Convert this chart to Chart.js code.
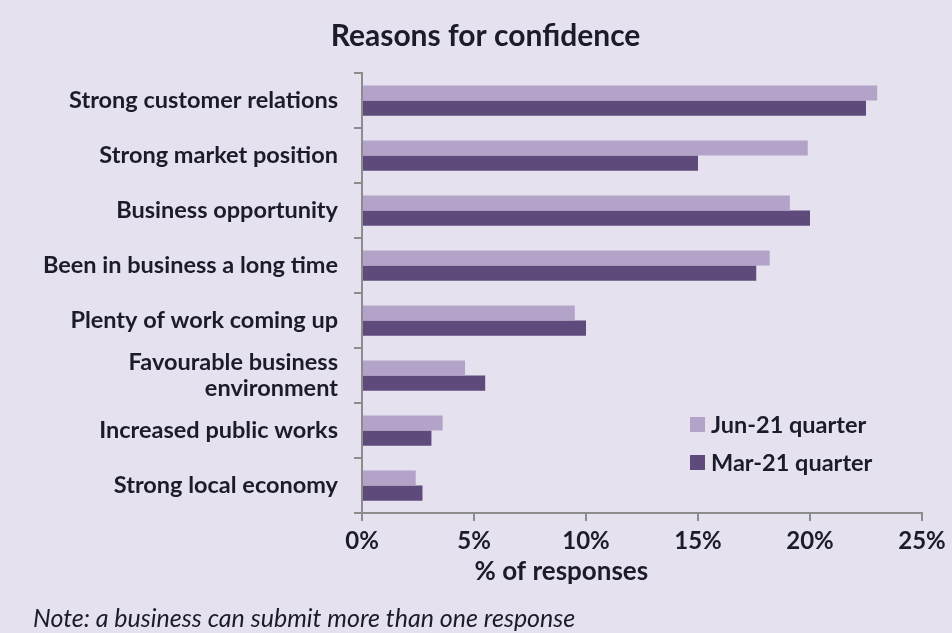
<!DOCTYPE html>
<html lang="en">
<head>
    <meta charset="UTF-8">
    <title>Reasons for confidence</title>
    <script src="https://cdn.jsdelivr.net/npm/chart.js@4.4.1/dist/chart.umd.min.js"></script>
    <style>
        body {
            margin: 0;
            background: #e6e1ee;
            font-family: 'Lato', sans-serif;
        }
        .wrap {
            position: relative;
            width: 952px;
            height: 633px;
        }
        .legend {
            position: absolute;
            left: 690px;
            top: 405px;
            font-size: 23.5px;
            font-weight: bold;
            color: #1b1b2b;
        }
        .legend div {
            display: flex;
            align-items: center;
            height: 38px;
        }
        .legend span.box {
            width: 15px;
            height: 15px;
            margin-right: 6px;
        }
    </style>
</head>
<body>
<div class="wrap">
    <canvas id="chart" width="952" height="633"></canvas>
    <div class="legend" id="legend"></div>
</div>

<script>
    // data
    const reasons = [
        "Strong customer relations",
        "Strong market position",
        "Business opportunity",
        "Been in business a long time",
        "Plenty of work coming up",
        ["Favourable business", "environment"],
        "Increased public works",
        "Strong local economy"
    ];
    const jun21 = [23.0, 19.9, 19.1, 18.2, 9.5, 4.6, 3.6, 2.4];
    const mar21 = [22.5, 15.0, 20.0, 17.6, 10.0, 5.5, 3.1, 2.7];
    const xTicks = [0, 5, 10, 15, 20, 25];

    const ink = "#1b1b2b";
    const axisGrey = "#8c8c8c";

    // x title + note drawn under the axis
    const extras = {
        id: "extras",
        afterDraw(chart) {
            const c = chart.ctx;
            const x = chart.scales.x;
            c.save();
            c.fillStyle = ink;
            c.textAlign = "center";
            c.textBaseline = "middle";
            c.font = "bold 26px Lato";
            c.fillText("% of responses", x.getPixelForValue(8.9), 572);
            c.textAlign = "left";
            c.font = "italic 25px Lato";
            c.fillText("Note: a business can submit more than one response", 33, 619);
            c.restore();
        }
    };

    const ctx = document.getElementById("chart").getContext("2d");
    const chart = new Chart(ctx, {
        type: "bar",
        data: {
            labels: reasons,
            datasets: [
                { label: "Jun-21 quarter", data: jun21, backgroundColor: "#b3a3c9" },
                { label: "Mar-21 quarter", data: mar21, backgroundColor: "#5f4b7b" }
            ]
        },
        options: {
            indexAxis: "y",
            responsive: false,
            animation: false,
            datasets: { bar: { categoryPercentage: 0.55, barPercentage: 1.0 } },
            layout: { padding: { left: 35, right: 16, top: 18, bottom: 0 } },
            plugins: {
                legend: { display: false },
                tooltip: { enabled: false },
                title: {
                    display: true,
                    text: "Reasons for confidence",
                    color: ink,
                    font: { family: "Lato", size: 30, weight: "bold" },
                    padding: { top: 0, bottom: 19 }
                }
            },
            scales: {
                x: {
                    min: 0,
                    max: 25,
                    afterBuildTicks(scale) {
                        scale.ticks = xTicks.map(v => ({ value: v }));
                    },
                    afterFit(scale) {
                        scale.height = 120;
                        scale.paddingRight = 30;
                    },
                    border: { color: axisGrey, width: 2 },
                    grid: { drawOnChartArea: false, color: axisGrey, lineWidth: 2, tickLength: 8 },
                    ticks: {
                        color: ink,
                        padding: 6,
                        autoSkip: false,
                        maxRotation: 0,
                        font: { family: "Lato", size: 24, weight: "bold" },
                        callback: v => v + "%"
                    }
                },
                y: {
                    afterFit(scale) { scale.width = 327; },
                    border: { color: axisGrey, width: 2 },
                    grid: { drawOnChartArea: false, color: axisGrey, lineWidth: 2, tickLength: 8 },
                    ticks: {
                        color: ink,
                        padding: 16,
                        autoSkip: false,
                        font: { family: "Lato", size: 23.5, weight: "bold", lineHeight: 1.12 }
                    }
                }
            }
        },
        plugins: [extras]
    });

    // legend from the chart datasets
    const legend = document.getElementById("legend");
    chart.data.datasets.forEach(ds => {
        const row = document.createElement("div");
        row.innerHTML = '<span class="box" style="background:' + ds.backgroundColor + '"></span>' + ds.label;
        legend.appendChild(row);
    });
</script>
</body>
</html>
